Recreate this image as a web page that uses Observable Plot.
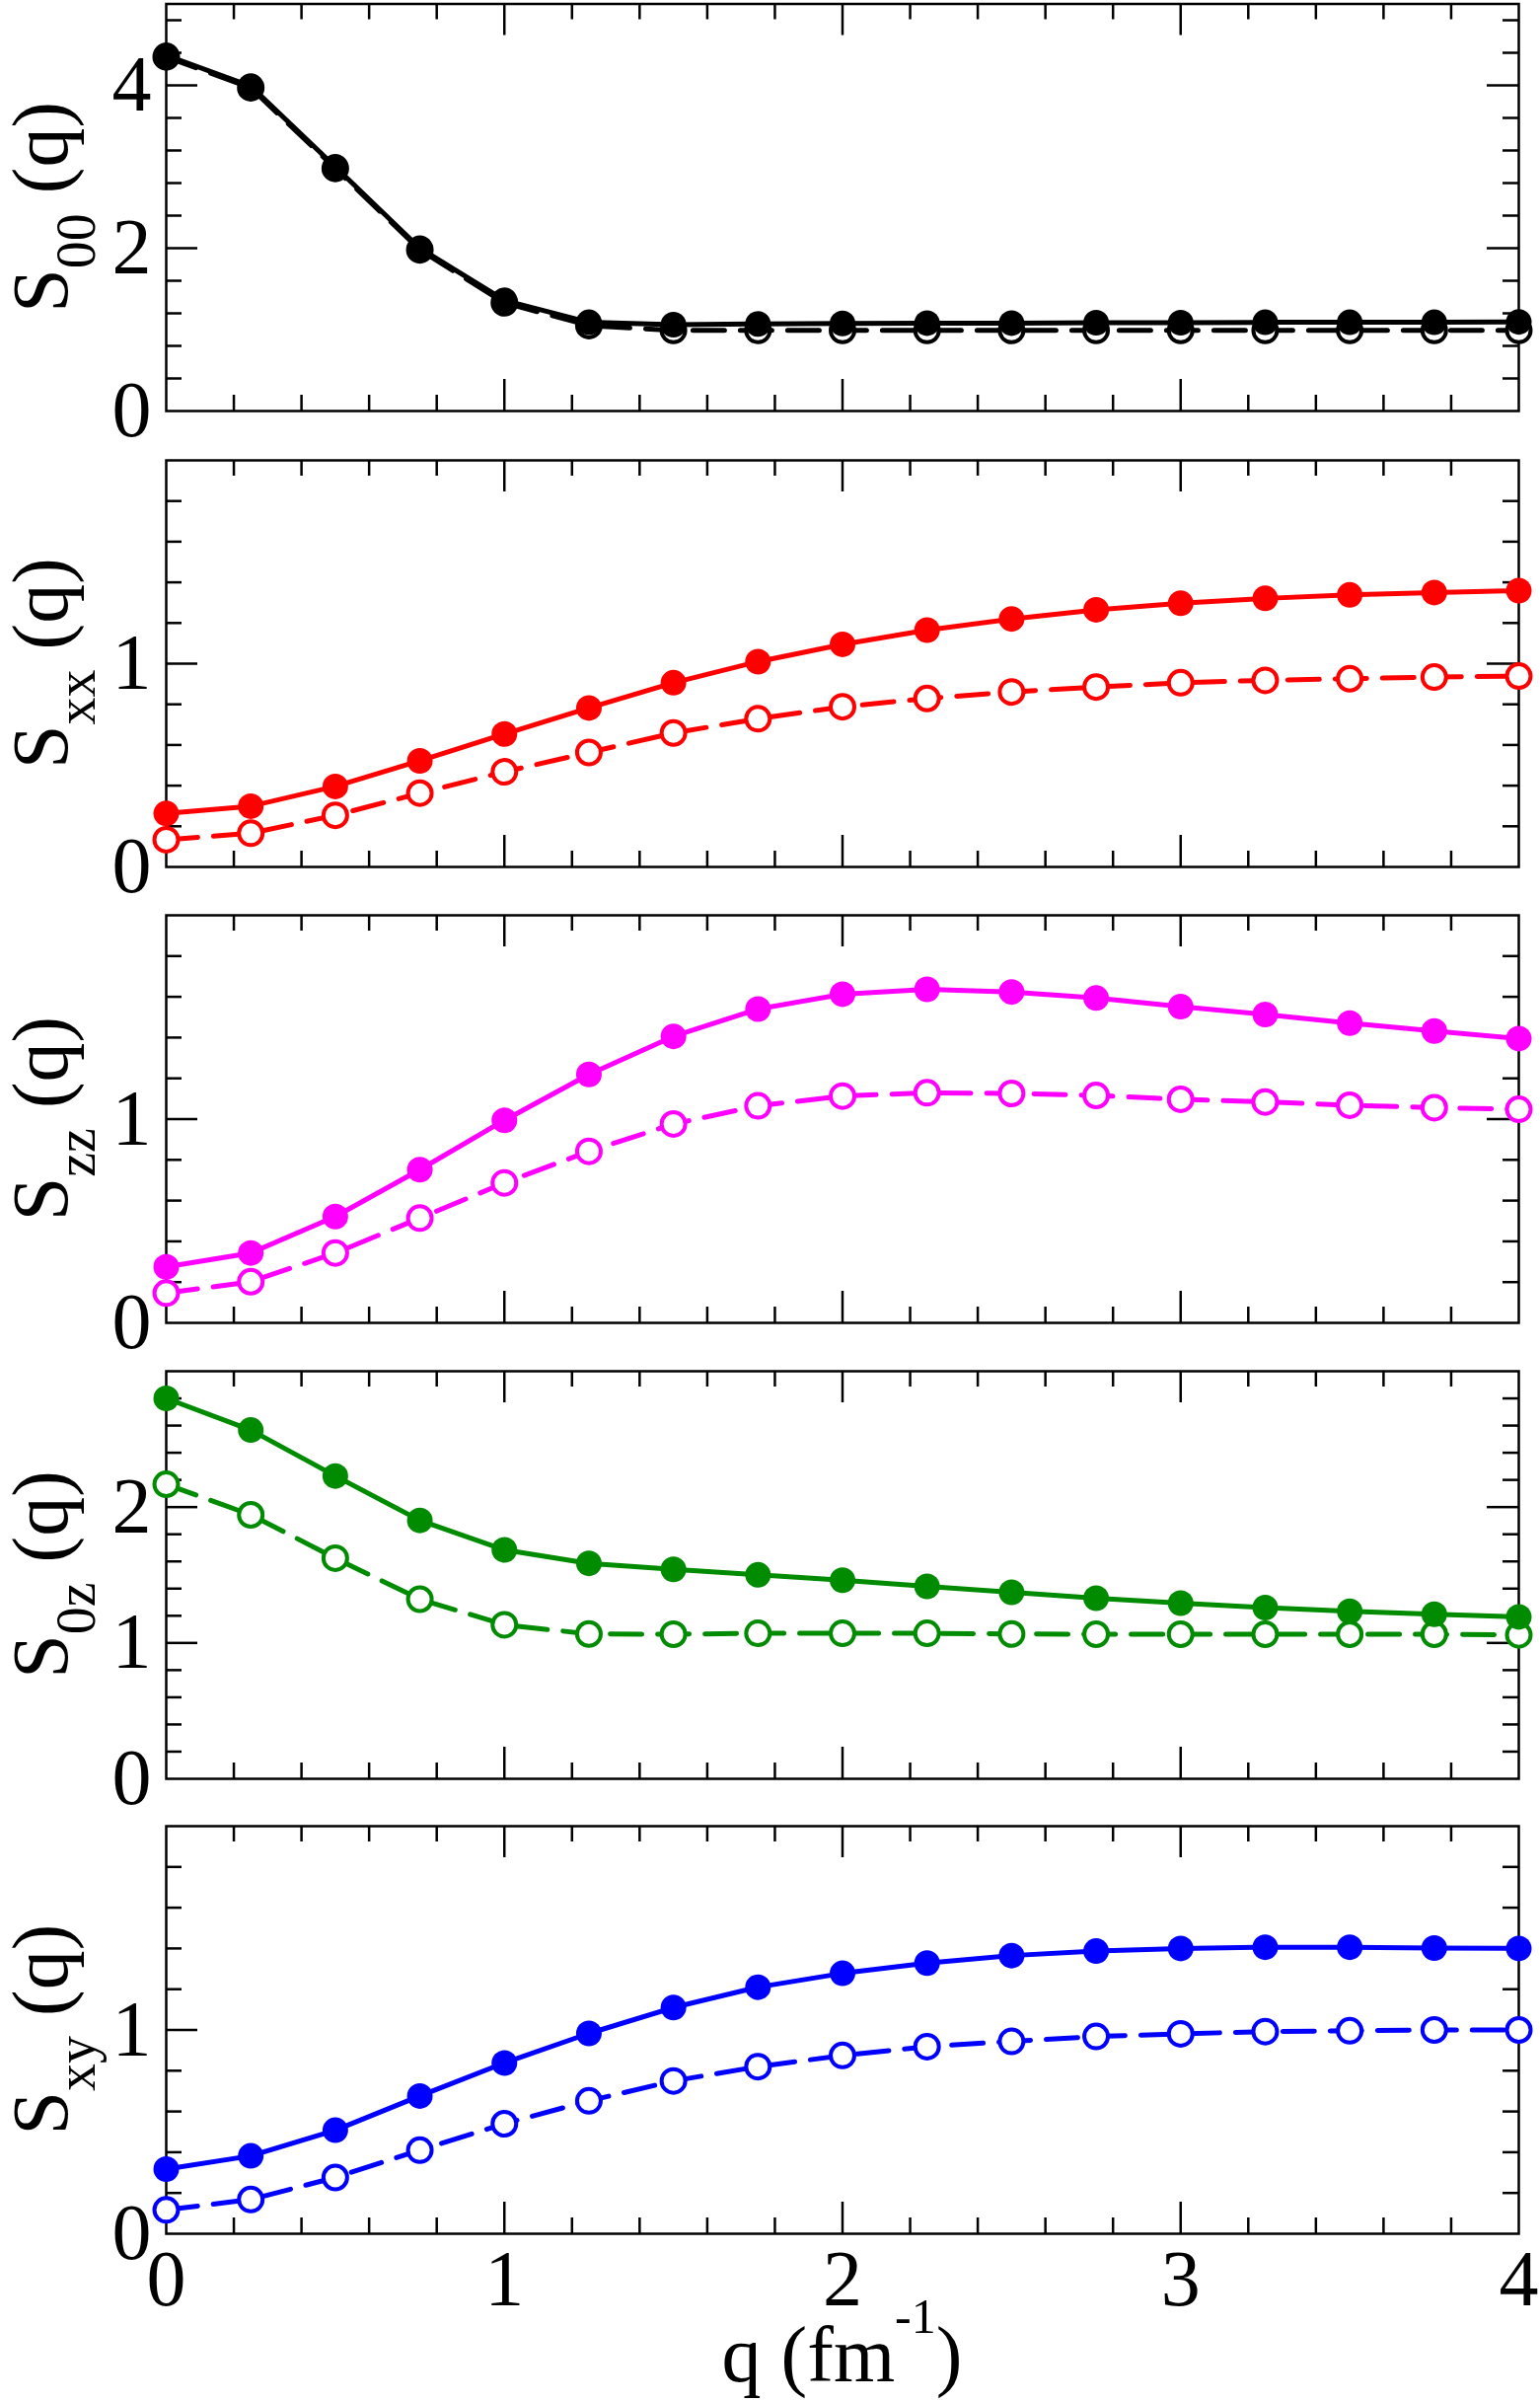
<!DOCTYPE html>
<html><head><meta charset="utf-8">
<script src="https://cdn.jsdelivr.net/npm/d3@7"></script>
<script src="https://cdn.jsdelivr.net/npm/@observablehq/plot@0.6"></script>
<style>
body{margin:0;background:#fff}
#wrap{position:relative;width:1561px;height:2434px;background:#fff}
#wrap svg{position:absolute;left:0}
</style>
</head><body><div id="wrap"></div>
<script>
// momentum grid q (fm^-1)
const q = [0, 0.25, 0.5, 0.75, 1.0, 1.25, 1.5, 1.75, 2.0, 2.25, 2.5, 2.75, 3.0, 3.25, 3.5, 3.75, 4.0];

// S00(q)
const s00Filled = [4.37, 3.99, 3.00, 2.00, 1.36, 1.09, 1.06, 1.07, 1.075, 1.08, 1.08, 1.085, 1.085, 1.09, 1.09, 1.09, 1.095];
const s00Open   = [4.35, 3.97, 2.98, 1.98, 1.33, 1.05, 0.99, 0.99, 0.99, 0.99, 0.99, 0.99, 0.99, 0.99, 0.99, 0.99, 0.99];
// Sxx(q)
const sxxFilled = [0.263, 0.299, 0.396, 0.522, 0.654, 0.782, 0.906, 1.01, 1.095, 1.165, 1.22, 1.265, 1.297, 1.321, 1.338, 1.35, 1.359];
const sxxOpen   = [0.134, 0.166, 0.254, 0.363, 0.468, 0.563, 0.659, 0.729, 0.788, 0.829, 0.861, 0.885, 0.906, 0.918, 0.926, 0.934, 0.939];
// Szz(q)
const szzFilled = [0.275, 0.343, 0.522, 0.752, 0.994, 1.219, 1.406, 1.54, 1.613, 1.637, 1.624, 1.594, 1.552, 1.513, 1.471, 1.432, 1.395];
const szzOpen   = [0.146, 0.202, 0.343, 0.514, 0.687, 0.842, 0.976, 1.065, 1.113, 1.129, 1.126, 1.116, 1.097, 1.084, 1.068, 1.056, 1.048];
// S0z(q)
const s0zFilled = [2.80, 2.567, 2.229, 1.902, 1.685, 1.586, 1.542, 1.501, 1.462, 1.416, 1.373, 1.329, 1.293, 1.26, 1.233, 1.211, 1.192];
const s0zOpen   = [2.168, 1.943, 1.624, 1.322, 1.134, 1.066, 1.064, 1.071, 1.071, 1.071, 1.066, 1.064, 1.064, 1.064, 1.064, 1.064, 1.059];
// Sxy(q)
const sxyFilled = [0.317, 0.382, 0.508, 0.676, 0.838, 0.983, 1.11, 1.21, 1.278, 1.328, 1.365, 1.387, 1.40, 1.406, 1.406, 1.402, 1.40];
const sxyOpen   = [0.117, 0.168, 0.276, 0.41, 0.54, 0.652, 0.75, 0.82, 0.875, 0.918, 0.944, 0.968, 0.981, 0.992, 0.996, 1.0, 1.0];

// axis ticks
const xMajorTicks = [1, 2, 3];
const xMinorTicks = [0.2, 0.4, 0.6, 0.8, 1.2, 1.4, 1.6, 1.8, 2.2, 2.4, 2.6, 2.8, 3.2, 3.4, 3.6, 3.8];
const xTickLabels = [0, 1, 2, 3, 4];
const yTicks5Major = [2, 4];
const yTicks5Minor = [0.4, 0.8, 1.2, 1.6, 2.4, 2.8, 3.2, 3.6, 4.4, 4.8];
const yTicks5Labels = [0, 2, 4];
const yTicks2Major = [1];
const yTicks2Minor = [0.2, 0.4, 0.6, 0.8, 1.2, 1.4, 1.6, 1.8];
const yTicks2Labels = [0, 1];
const yTicks3Major = [1, 2];
const yTicks3Minor = [0.2, 0.4, 0.6, 0.8, 1.2, 1.4, 1.6, 1.8, 2.2, 2.4, 2.6, 2.8];
const yTicks3Labels = [0, 1, 2];

const colors = ["#000000", "#ff0000", "#ff00ff", "#008b00", "#0000ff"];
const subscripts = ["00", "xx", "zz", "0z", "xy"];

const panels = [
  {filled: s00Filled, open: s00Open, yDomain: [0, 5], major: yTicks5Major, minor: yTicks5Minor, labels: yTicks5Labels, top: 0,    h: 441, mt: 3.5, mb: 25},
  {filled: sxxFilled, open: sxxOpen, yDomain: [0, 2], major: yTicks2Major, minor: yTicks2Minor, labels: yTicks2Labels, top: 441,  h: 461, mt: 25,  mb: 24},
  {filled: szzFilled, open: szzOpen, yDomain: [0, 2], major: yTicks2Major, minor: yTicks2Minor, labels: yTicks2Labels, top: 902,  h: 462, mt: 25,  mb: 24},
  {filled: s0zFilled, open: s0zOpen, yDomain: [0, 3], major: yTicks3Major, minor: yTicks3Minor, labels: yTicks3Labels, top: 1364, h: 462, mt: 25,  mb: 24},
  {filled: sxyFilled, open: sxyOpen, yDomain: [0, 2], major: yTicks2Major, minor: yTicks2Minor, labels: yTicks2Labels, top: 1826, h: 608, mt: 24,  mb: 171}
];

const FONT = "'Liberation Serif', 'Times New Roman', serif";
const W = 1561, ML = 168, MR = 22;
const MAJ = 32, MIN = 16, TW = 2.5;
const wrap = document.getElementById("wrap");

panels.forEach((p, i) => {
  const color = colors[i];
  const rows = q.map((v, j) => ({q: v, filled: p.filled[j], open: p.open[j]}));
  const ph = p.h - p.mt - p.mb;
  const pw = W - ML - MR;
  const last = i === panels.length - 1;
  const marks = [
    Plot.frame({stroke: "black", strokeWidth: TW}),
    // bottom & top x ticks (inward)
    Plot.ruleX(xMajorTicks, {x: d => d, insetTop: ph - MAJ, stroke: "black", strokeWidth: TW}),
    Plot.ruleX(xMinorTicks, {x: d => d, insetTop: ph - MIN, stroke: "black", strokeWidth: TW}),
    Plot.ruleX(xMajorTicks, {x: d => d, insetBottom: ph - MAJ, stroke: "black", strokeWidth: TW}),
    Plot.ruleX(xMinorTicks, {x: d => d, insetBottom: ph - MIN, stroke: "black", strokeWidth: TW}),
    // left & right y ticks (inward)
    Plot.ruleY(p.major, {y: d => d, insetRight: pw - MAJ, stroke: "black", strokeWidth: TW}),
    Plot.ruleY(p.minor, {y: d => d, insetRight: pw - MIN, stroke: "black", strokeWidth: TW}),
    Plot.ruleY(p.major, {y: d => d, insetLeft: pw - MAJ, stroke: "black", strokeWidth: TW}),
    Plot.ruleY(p.minor, {y: d => d, insetLeft: pw - MIN, stroke: "black", strokeWidth: TW}),
    // dashed / open set
    Plot.line(rows, {x: "q", y: "open", stroke: color, strokeWidth: 5, strokeDasharray: "32,16"}),
    Plot.dot(rows, {x: "q", y: "open", r: 12, fill: "white", stroke: color, strokeWidth: 4}),
    // solid / filled set
    Plot.line(rows, {x: "q", y: "filled", stroke: color, strokeWidth: 5}),
    Plot.dot(rows, {x: "q", y: "filled", r: 13, fill: color, stroke: "none"}),
    Plot.axisY(p.labels, {anchor: "left", tickSize: 0, tickPadding: 15, fontSize: 80, fontFamily: FONT, label: null, tickFormat: d => String(d)})
  ];
  if (last) {
    marks.push(Plot.axisX(xTickLabels, {anchor: "bottom", tickSize: 0, tickPadding: 16, fontSize: 80, fontFamily: FONT, label: null, tickFormat: d => String(d)}));
  }
  const svg = Plot.plot({
    width: W, height: p.h,
    marginLeft: ML, marginRight: MR, marginTop: p.mt, marginBottom: p.mb,
    style: {background: "transparent", overflow: "visible", fontFamily: FONT, color: "black"},
    x: {domain: [0, 4], axis: last ? undefined : null},
    y: {domain: p.yDomain},
    marks
  });
  svg.style.top = p.top + "px";
  const s = d3.select(svg);
  // y-axis title with subscript
  const cy = p.mt + ph / 2;
  const t = s.append("text")
    .attr("transform", `translate(68,${cy}) rotate(-90)`)
    .attr("text-anchor", "middle")
    .attr("font-family", FONT).attr("font-size", 80).attr("fill", "black");
  t.append("tspan").text("S");
  t.append("tspan").attr("font-size", 56).attr("dy", 28).text(subscripts[i]);
  t.append("tspan").attr("dy", -28).text(" (q)");
  if (last) {
    const bx = ML + pw / 2;
    const by = 2413 - p.top;
    const xt = s.append("text")
      .attr("x", bx).attr("y", by)
      .attr("text-anchor", "middle")
      .attr("font-family", FONT).attr("font-size", 80).attr("fill", "black");
    xt.append("tspan").text("q (fm");
    xt.append("tspan").attr("font-size", 50).attr("dy", -49).text("-1");
    xt.append("tspan").attr("dy", 49).text(")");
  }
  wrap.appendChild(svg);
});
</script>
</body></html>
